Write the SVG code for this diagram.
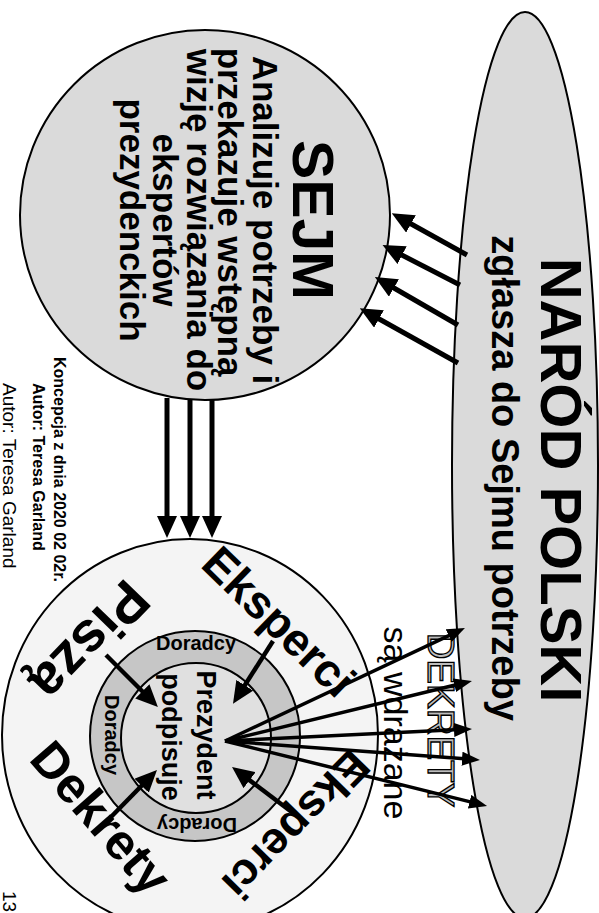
<svg xmlns="http://www.w3.org/2000/svg" width="599" height="913" viewBox="0 0 599 913">
<defs>
<style>
text{font-family:"Liberation Sans",Arial,sans-serif;fill:#000}
.b{font-weight:bold}
.shape{stroke:#000;stroke-width:2}
.thick{stroke:#000;stroke-width:5;fill:none;marker-end:url(#ahB)}
.mid{stroke:#000;stroke-width:4.5;fill:none;marker-end:url(#ahB)}
.thin{stroke:#000;stroke-width:3.5;fill:none;marker-end:url(#ahS)}
</style>
<marker id="ahB" markerUnits="userSpaceOnUse" viewBox="0 0 22 20" markerWidth="22" markerHeight="20" refX="8" refY="10" orient="auto"><path d="M0,0 L22,10 L0,20 z" fill="#000"/></marker>
<marker id="ahS" markerUnits="userSpaceOnUse" viewBox="0 0 18 14" markerWidth="18" markerHeight="14" refX="6" refY="7" orient="auto"><path d="M0,0 L18,7 L0,14 z" fill="#000"/></marker>
</defs>
<rect width="599" height="913" fill="#fff"/>

<g id="narod">
<ellipse cx="525" cy="465" rx="73" ry="453" fill="#dadada" class="shape"/>
<text class="b" font-size="58" text-anchor="middle" transform="translate(541,480) rotate(90)">NARÓD POLSKI</text>
<text class="b" font-size="38" text-anchor="middle" transform="translate(492,478) rotate(90)">zgłasza do Sejmu potrzeby</text>
</g>

<g id="sejm">
<circle cx="205" cy="215" r="185" fill="#dadada" class="shape"/>
<text class="b" font-size="57" text-anchor="middle" textLength="160" lengthAdjust="spacingAndGlyphs" transform="translate(293,220) rotate(90)">SEJM</text>
<g class="b" font-size="35" text-anchor="middle">
<text transform="translate(253,220) rotate(90)">Analizuje potrzeby i</text>
<text transform="translate(218,212) rotate(90)">przekazuje wstępną</text>
<text transform="translate(187,220) rotate(90)">wizję rozwiązania do</text>
<text transform="translate(153,220) rotate(90)">ekspertów</text>
<text transform="translate(120,220) rotate(90)">prezydenckich</text>
</g>
</g>

<g id="prezydent">
<ellipse cx="190" cy="735" rx="188" ry="196" fill="#f4f4f4" class="shape"/>
<circle cx="195" cy="736" r="105" fill="#c6c6c6" class="shape"/>
<circle cx="196" cy="738" r="75" fill="#e0e0e0" class="shape"/>
<g class="b" font-size="27" text-anchor="middle">
<text transform="translate(197,735) rotate(90)">Prezydent</text>
<text transform="translate(162,737) rotate(90)">podpisuje</text>
</g>
<g class="b" font-size="20" text-anchor="middle">
<text x="196" y="650">Doradcy</text>
<text transform="translate(105,735) rotate(90)">Doradcy</text>
<text transform="translate(197,818) rotate(180)">Doradcy</text>
</g>
<g class="b" text-anchor="middle">
<text font-size="46" transform="translate(268,633) rotate(44.3)">Eksperci</text>
<text font-size="45" transform="translate(285,814) rotate(134.5)">Eksperci</text>
<text font-size="56" transform="translate(76,628) rotate(134)">Piszą</text>
<text font-size="50" transform="translate(88,829) rotate(49)">Dekrety</text>
</g>
</g>

<g id="dekrety-label">
<text font-size="37" text-anchor="middle" stroke="#000" stroke-width="1.3" style="fill:#bdbdbd" transform="translate(428,720) rotate(90)">DEKRETY</text>
<text font-size="34" text-anchor="middle" transform="translate(384,723) rotate(90)">są wdrażane</text>
</g>

<g id="connectors">
<line class="thick" x1="467" y1="255" x2="404" y2="220"/>
<line class="thick" x1="460" y1="285" x2="395" y2="251.5"/>
<line class="thick" x1="458" y1="325" x2="387" y2="284"/>
<line class="thick" x1="458" y1="363" x2="372" y2="315"/>
<line class="thick" x1="167" y1="398" x2="167" y2="524"/>
<line class="thick" x1="190" y1="400" x2="190" y2="524"/>
<line class="thick" x1="212" y1="400" x2="212" y2="524"/>
<line class="mid" x1="273" y1="641" x2="240.5" y2="692"/>
<line class="mid" x1="106" y1="655" x2="148" y2="697"/>
<line class="mid" x1="110" y1="818" x2="147.2" y2="780"/>
<line class="mid" x1="293" y1="813" x2="243.2" y2="775.4"/>
<line class="thin" x1="225" y1="741" x2="454.1" y2="633.1"/>
<line class="thin" x1="225" y1="741" x2="460.3" y2="683.8"/>
<line class="thin" x1="225" y1="741" x2="460" y2="729.6"/>
<line class="thin" x1="225" y1="741" x2="468" y2="759.1"/>
<line class="thin" x1="225" y1="741" x2="475.4" y2="803.1"/>
</g>

<g id="footer">
<text class="b" font-size="16" transform="translate(54,357) rotate(90)">Koncepcja z dnia 2020 02 02r.</text>
<text class="b" font-size="16" transform="translate(33,383) rotate(90)">Autor: Teresa Garland</text>
<text font-size="19" transform="translate(3,383) rotate(90)">Autor: Teresa Garland</text>
<text font-size="19" transform="translate(3,891) rotate(90)">13</text>
</g>
</svg>
